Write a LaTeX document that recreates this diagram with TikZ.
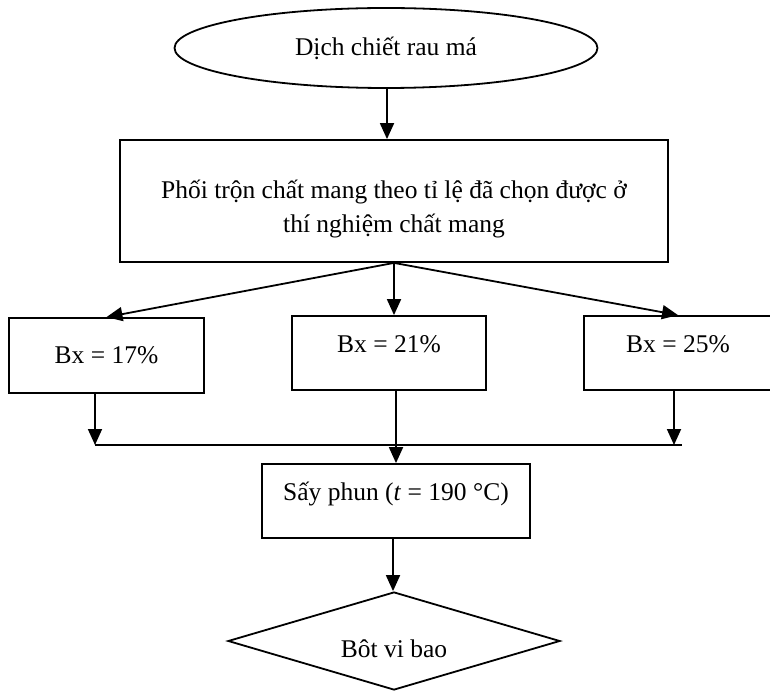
\documentclass[tikz,border=0pt]{standalone}
\usepackage{fontspec}
\setmainfont{Liberation Serif}
\usetikzlibrary{shapes.geometric,arrows.meta}

\begin{document}
\begin{tikzpicture}[x=1pt,y=-1pt,line width=1.8pt,
    >={Triangle[length=16pt,width=14pt]},
    every node/.style={font=\fontsize{25.5}{34}\selectfont,inner sep=0pt}]
    \tikzstyle{stepbox}=[draw,rectangle,align=center]
    \tikzstyle{startnode}=[draw,ellipse,minimum width=423pt,minimum height=80pt]
    \tikzstyle{endnode}=[draw,diamond,aspect=3.4,minimum width=332pt,minimum height=98pt]
    \tikzstyle{flow}=[->]

    \useasboundingbox (0,0) rectangle (770,692);

    % Start and mixing step
    \node[startnode] (raw) at (386,48) {Dịch chiết rau má};
    \node[stepbox,minimum width=548pt,minimum height=122pt] (mix) at (394,201)
        {\raisebox{-8pt}[\height][\depth]{\begin{tabular}{c}Phối trộn chất mang theo tỉ lệ đã chọn được ở\\ thí nghiệm chất mang\end{tabular}}};

    % The three Bx variants
    \node[stepbox,minimum width=195pt,minimum height=75pt] (b17) at (106.5,355.5) {Bx = 17\%};
    \node[stepbox,minimum width=194pt,minimum height=74pt,text depth=18pt] (b21) at (389,353) {Bx = 21\%};
    \node[stepbox,minimum width=188pt,minimum height=74pt,text depth=18pt] (b25) at (678,353) {Bx = 25\%};

    % Drying and product
    \node[stepbox,minimum width=268pt,minimum height=74pt,text depth=20pt] (dry) at (396,501)
        {Sấy phun (\textit{t} = 190 °C)};
    \node[endnode] (out) at (394,641) {\raisebox{-8pt}[\height][\depth]{Bôt vi bao}};

    \coordinate (jl) at (95,445);
    \coordinate (jr) at (674,445);

    % Connect the steps
    \draw[flow] (raw.south -| 387,0) -- (mix.north -| 387,0);
    \foreach \dest in {b17,b25}
        \draw[flow] (mix.south) -- (\dest.north);
    \draw[flow] (mix.south) -- (mix.south |- b21.north);
    \draw[flow] (b17.south -| jl) -- (jl);
    \draw[flow] (b25.south -| jr) -- (jr);
    \draw (jl) -- ([xshift=8pt]jr);
    \draw[flow] (b21.south -| dry.north) -- (dry.north);
    \draw[flow] (dry.south -| 393,0) -- (out.north -| 393,0);
\end{tikzpicture}
\end{document}
